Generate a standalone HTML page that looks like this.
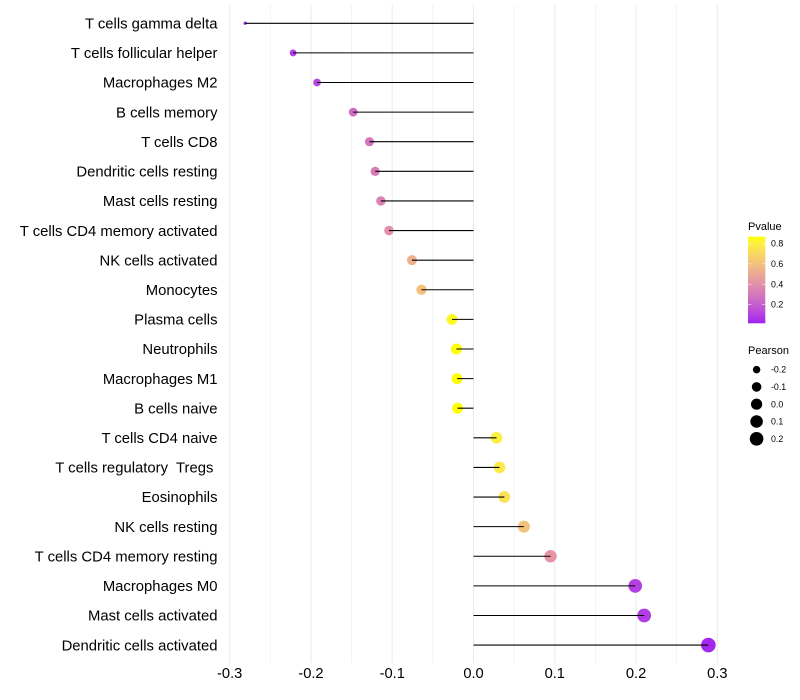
<!DOCTYPE html>
<html lang="en">
<head>
<meta charset="utf-8">
<title>Lollipop chart of immune cell correlation</title>
<style>
html,body{margin:0;padding:0;background:#fff;}
svg{display:block;font-family:"Liberation Sans",sans-serif;}
text{white-space:pre;}
</style>
</head>
<body>
<svg id="chart" xmlns="http://www.w3.org/2000/svg" width="800" height="700" viewBox="0 0 800 700">
<g id="grid"></g>
<g id="points"></g>
<g id="stems"></g>
<g id="ylabels"></g>
<g id="xlabels"></g>
<g id="pvalue-legend">
<defs><linearGradient id="pgrad" x1="0" y1="1" x2="0" y2="0"></linearGradient></defs>
<text x="748" y="230" font-size="11" fill="#000">Pvalue</text>
<rect x="748" y="236.7" width="17.3" height="86.6" fill="url(#pgrad)"></rect>
</g>
<g id="size-legend">
<text x="748" y="354" font-size="11" fill="#000">Pearson</text>
</g>
</svg>
<script>
const categories = ["T cells gamma delta","T cells follicular helper","Macrophages M2","B cells memory","T cells CD8","Dendritic cells resting","Mast cells resting","T cells CD4 memory activated","NK cells activated","Monocytes","Plasma cells","Neutrophils","Macrophages M1","B cells naive","T cells CD4 naive","T cells regulatory  Tregs ","Eosinophils","NK cells resting","T cells CD4 memory resting","Macrophages M0","Mast cells activated","Dendritic cells activated"];
const pearson = [-0.281,-0.222,-0.1925,-0.148,-0.128,-0.121,-0.114,-0.104,-0.0757,-0.064,-0.0265,-0.021,-0.0203,-0.0197,0.0283,0.032,0.038,0.062,0.0948,0.199,0.21,0.289];
const pvalue = [0.03,0.09,0.12,0.25,0.29,0.31,0.34,0.40,0.53,0.60,0.84,0.868,0.868,0.868,0.80,0.78,0.74,0.61,0.42,0.10,0.09,0.03];
const xTicks = [-0.3,-0.2,-0.1,0,0.1,0.2,0.3];
const xMinorTicks = [-0.25,-0.15,-0.05,0.05,0.15,0.25];
const pvalueTicks = [0.2,0.4,0.6,0.8];
const pearsonLegend = [-0.2,-0.1,0,0.1,0.2];

const SVG_NS = "http://www.w3.org/2000/svg";
const x = v => 473.5 + v * 812.7;
const y = i => 23.28 + i * 29.61;
const pY = p => 304.5 - (p - 0.2) * 101.5;
const pMin = 0.015, pMax = 0.868;
const minR = Math.min(...pearson), maxR = Math.max(...pearson);
const diameter = v => 3.2 + 11.4 * Math.sqrt(Math.max(0, (v - minR) / (maxR - minR)));

function toLab(rgb){
  const l = rgb.map(c => { c /= 255; return c > 0.04045 ? Math.pow((c + 0.055) / 1.055, 2.4) : c / 12.92; });
  const X = (0.4124*l[0] + 0.3576*l[1] + 0.1805*l[2]) / 0.95047;
  const Y = 0.2126*l[0] + 0.7152*l[1] + 0.0722*l[2];
  const Z = (0.0193*l[0] + 0.1192*l[1] + 0.9505*l[2]) / 1.08883;
  const f = t => t > 0.008856 ? Math.cbrt(t) : 7.787*t + 16/116;
  return [116*f(Y) - 16, 500*(f(X) - f(Y)), 200*(f(Y) - f(Z))];
}
function fromLab(lab){
  const fy = (lab[0] + 16) / 116, fx = fy + lab[1] / 500, fz = fy - lab[2] / 200;
  const g = t => t*t*t > 0.008856 ? t*t*t : (t - 16/116) / 7.787;
  const X = g(fx)*0.95047, Y = g(fy), Z = g(fz)*1.08883;
  const rgb = [3.2406*X - 1.5372*Y - 0.4986*Z, -0.9689*X + 1.8758*Y + 0.0415*Z, 0.0557*X - 0.2040*Y + 1.0570*Z];
  const out = rgb.map(c => {
    c = c > 0.0031308 ? 1.055*Math.pow(c, 1/2.4) - 0.055 : 12.92*c;
    return Math.round(Math.min(1, Math.max(0, c)) * 255);
  });
  return "rgb(" + out.join(",") + ")";
}
const lowLab = toLab([160,32,240]);
const highLab = toLab([255,255,0]);
function colorAt(p){
  const t = Math.min(1, Math.max(0, (p - pMin) / (pMax - pMin)));
  return fromLab(lowLab.map((c, k) => c + (highLab[k] - c) * t));
}
function make(tag, attrs, parent){
  const el = document.createElementNS(SVG_NS, tag);
  for (const k in attrs) el.setAttribute(k, attrs[k]);
  parent.appendChild(el);
  return el;
}
const grid = document.getElementById("grid");
const points = document.getElementById("points");
const stems = document.getElementById("stems");
const ylabels = document.getElementById("ylabels");
const xlabels = document.getElementById("xlabels");
const pLegend = document.getElementById("pvalue-legend");
const sLegend = document.getElementById("size-legend");
const grad = document.getElementById("pgrad");

xMinorTicks.forEach(v => {
  const el = make("line", {x1:x(v), x2:x(v), y1:5, y2:663, stroke:"#ebebeb", "stroke-width":0.55}, grid);
  
  
});
xTicks.forEach(v => {
  const el = make("line", {x1:x(v), x2:x(v), y1:5, y2:663, stroke:"#ebebeb", "stroke-width":1.07}, grid);
  
  
  const t = make("text", {x:x(v), y:678, "text-anchor":"middle", "font-size":14.67, fill:"#000"}, xlabels);
  t.textContent = v.toFixed(1);
  
  
});
categories.forEach((c, i) => {
  const t = make("text", {x:217.5, y:y(i) + 5.2, "text-anchor":"end", "font-size":14.85, fill:"#000"}, ylabels);
  t.textContent = c;
  
  
  const pt = make("circle", {cx:x(pearson[i]), cy:y(i), r:diameter(pearson[i]) / 2, fill:colorAt(pvalue[i])}, points);
  
  
  const ln = make("line", {x1:x(0), x2:x(pearson[i]), y1:y(i), y2:y(i), stroke:"#000", "stroke-width":1.07}, stems);
  
  
});
for (let s = 0; s <= 20; s++){
  const p = pMin + (pMax - pMin) * s / 20;
  make("stop", {offset:(s * 5) + "%", "stop-color":colorAt(p)}, grad);
}
pvalueTicks.forEach(p => {
  const a = make("line", {x1:748, x2:751.5, y1:pY(p), y2:pY(p), stroke:"#fff", "stroke-width":0.5}, pLegend);
  
  
  const b = make("line", {x1:761.8, x2:765.3, y1:pY(p), y2:pY(p), stroke:"#fff", "stroke-width":0.5}, pLegend);
  
  
  const t = make("text", {x:771, y:pY(p) + 3.1, "font-size":8.8, fill:"#000"}, pLegend);
  t.textContent = p.toFixed(1);
  
  
});
pearsonLegend.forEach((v, i) => {
  const cy = 369.6 + i * 17.3;
  const c = make("circle", {cx:756.6, cy:cy, r:diameter(v) / 2, fill:"#000"}, sLegend);
  
  
  const t = make("text", {x:771, y:cy + 3.1, "font-size":8.8, fill:"#000"}, sLegend);
  t.textContent = v.toFixed(1);
  
  
});
</script>
</body>
</html>
